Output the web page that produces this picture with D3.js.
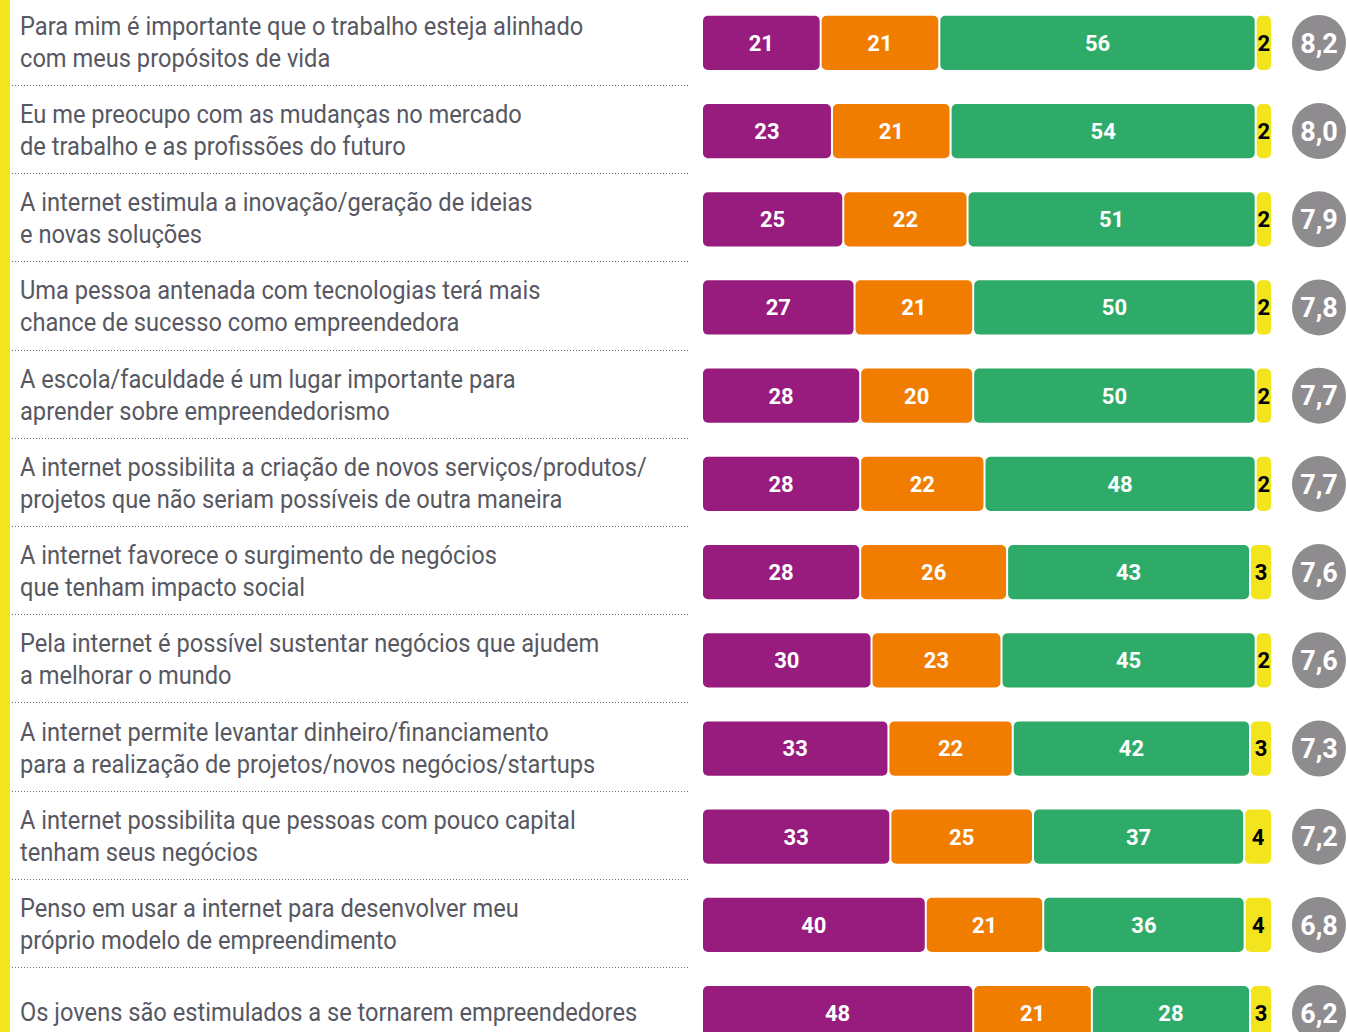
<!DOCTYPE html>
<html>
<head>
<meta charset="utf-8">
<script src="https://cdn.jsdelivr.net/npm/d3@7"></script>
<style>
  body { margin: 0; background: #fff; }
  svg { display: block; }
</style>
</head>
<body>
<div id="chart"></div>
<script>
// statements (label lines), shares per answer group and the mean score
var labels = [
  ["Para mim é importante que o trabalho esteja alinhado", "com meus propósitos de vida"],
  ["Eu me preocupo com as mudanças no mercado", "de trabalho e as profissões do futuro"],
  ["A internet estimula a inovação/geração de ideias", "e novas soluções"],
  ["Uma pessoa antenada com tecnologias terá mais", "chance de sucesso como empreendedora"],
  ["A escola/faculdade é um lugar importante para", "aprender sobre empreendedorismo"],
  ["A internet possibilita a criação de novos serviços/produtos/", "projetos que não seriam possíveis de outra maneira"],
  ["A internet favorece o surgimento de negócios", "que tenham impacto social"],
  ["Pela internet é possível sustentar negócios que ajudem", "a melhorar o mundo"],
  ["A internet permite levantar dinheiro/financiamento", "para a realização de projetos/novos negócios/startups"],
  ["A internet possibilita que pessoas com pouco capital", "tenham seus negócios"],
  ["Penso em usar a internet para desenvolver meu", "próprio modelo de empreendimento"],
  ["Os jovens são estimulados a se tornarem empreendedores"]
];
var purple = [21, 23, 25, 27, 28, 28, 28, 30, 33, 33, 40, 48];
var orange = [21, 21, 22, 21, 20, 22, 26, 23, 22, 25, 21, 21];
var green  = [56, 54, 51, 50, 50, 48, 43, 45, 42, 37, 36, 28];
var yellow = [2, 2, 2, 2, 2, 2, 3, 2, 3, 4, 4, 3];
var scores = ["8,2", "8,0", "7,9", "7,8", "7,7", "7,7", "7,6", "7,6", "7,3", "7,2", "6,8", "6,2"];

var keys = ["purple", "orange", "green", "yellow"];
var colors = { purple: "#981b7e", orange: "#f07d00", green: "#2eab69", yellow: "#f2e51d" };

var rows = labels.map(function(l, i) {
  return { i: i, purple: purple[i], orange: orange[i], green: green[i], yellow: yellow[i] };
});

var width = 1347, height = 1032;

var svg = d3.select("#chart").append("svg")
    .attr("width", width)
    .attr("height", height);

var y = d3.scaleBand()
    .domain(d3.range(labels.length))
    .range([-1, 1057])
    .paddingInner(0.385)
    .paddingOuter(0.19);

var x = d3.scaleLinear()
    .domain([0, 1])
    .range([702, 1267]);
var yellowExtra = 5; // small segment drawn a bit wider so its number fits

var stack = d3.stack().keys(keys).offset(d3.stackOffsetExpand);
var series = stack(rows);

// yellow strip on the left edge
svg.append("rect")
    .attr("x", 0).attr("y", 0)
    .attr("width", 10).attr("height", height)
    .attr("fill", colors.yellow);

// dotted separators
function sepY(d) { return Math.round(y(d) - y.step() * y.paddingInner() / 2) - 1.5; }
svg.append("g").selectAll("line")
    .data(d3.range(1, labels.length))
    .enter().append("line")
    .attr("x1", 12).attr("x2", 690)
    .attr("y1", sepY)
    .attr("y2", sepY)
    .attr("stroke", "#6f6f6f")
    .attr("stroke-width", 1)
    .attr("stroke-dasharray", "1,2");

// statement labels (condensed look via horizontal scale)
var lab = svg.append("g")
    .attr("transform", "translate(20,0) scale(0.91,1)")
    .selectAll("text")
    .data(labels)
    .enter().append("text")
    .attr("font-family", "Roboto, sans-serif")
    .attr("font-size", 26)
    .attr("fill", "#575862");

lab.each(function(l, i) {
  var cy = y(i) + y.bandwidth() / 2;
  var t = d3.select(this);
  if (l.length === 1) {
    t.append("tspan").attr("x", 0).attr("y", cy + 8).text(l[0]);
  } else {
    t.append("tspan").attr("x", 0).attr("y", cy - 8).text(l[0]);
    t.append("tspan").attr("x", 0).attr("y", cy + 24).text(l[1]);
  }
});

// stacked bars
var gap = 1;
function x0(d, key) { return x(d[0]); }
function x1(d, key) { return x(d[1]) + (key === "yellow" ? yellowExtra : 0); }

var layer = svg.append("g").selectAll("g")
    .data(series)
    .enter().append("g")
    .attr("fill", function(d) { return colors[d.key]; });

layer.selectAll("rect")
    .data(function(d) { return d.map(function(v) { v.key = d.key; return v; }); })
    .enter().append("rect")
    .attr("x", function(d) { return x0(d, d.key) + gap; })
    .attr("y", function(d) { return y(d.data.i); })
    .attr("width", function(d) { return x1(d, d.key) - x0(d, d.key) - gap * 2; })
    .attr("height", y.bandwidth())
    .attr("rx", 5);

layer.selectAll("text")
    .data(function(d) { return d; })
    .enter().append("text")
    .attr("x", function(d) { return (x0(d, d.key) + x1(d, d.key)) / 2; })
    .attr("y", function(d) { return y(d.data.i) + y.bandwidth() / 2; })
    .attr("dy", "0.36em")
    .attr("text-anchor", "middle")
    .attr("font-family", "Roboto, sans-serif")
    .attr("font-weight", "bold")
    .attr("font-size", 22)
    .attr("fill", function(d) { return d.key === "yellow" ? "#000" : "#fff"; })
    .text(function(d) { return d.data[d.key]; });

// mean score bubbles
var bub = svg.append("g").selectAll("g")
    .data(scores)
    .enter().append("g")
    .attr("transform", function(d, i) { return "translate(1319," + (y(i) + y.bandwidth() / 2) + ")"; });

bub.append("ellipse")
    .attr("rx", 27).attr("ry", 28)
    .attr("fill", "#8f8c90");

bub.append("text")
    .attr("dy", "0.36em")
    .attr("text-anchor", "middle")
    .attr("font-family", "Roboto, sans-serif")
    .attr("font-weight", "bold")
    .attr("font-size", 27)
    .attr("fill", "#fff")
    .text(function(d) { return d; });
</script>
</body>
</html>
